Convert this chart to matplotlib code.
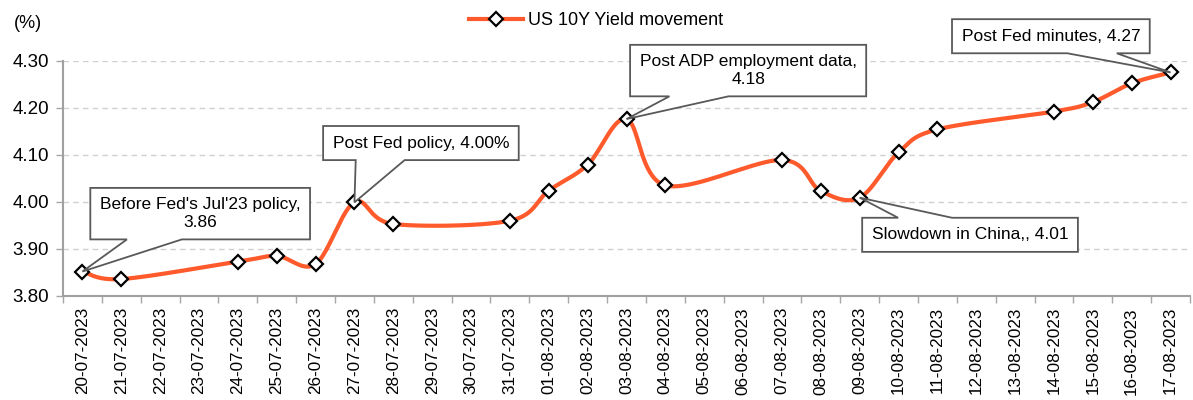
import numpy as np
import matplotlib
matplotlib.use("Agg")
import matplotlib.pyplot as plt
from matplotlib.patches import Polygon
from matplotlib.ticker import FixedLocator, MultipleLocator, FormatStrFormatter

plt.rcParams['font.family'] = ['Liberation Sans', 'DejaVu Sans']

dates = ["20-07-2023", "21-07-2023", "22-07-2023", "23-07-2023", "24-07-2023",
         "25-07-2023", "26-07-2023", "27-07-2023", "28-07-2023", "29-07-2023",
         "30-07-2023", "31-07-2023", "01-08-2023", "02-08-2023", "03-08-2023",
         "04-08-2023", "05-08-2023", "06-08-2023", "07-08-2023", "08-08-2023",
         "09-08-2023", "10-08-2023", "11-08-2023", "12-08-2023", "13-08-2023",
         "14-08-2023", "15-08-2023", "16-08-2023", "17-08-2023"]
trade_dates = ["20-07-2023", "21-07-2023", "24-07-2023", "25-07-2023", "26-07-2023",
               "27-07-2023", "28-07-2023", "31-07-2023", "01-08-2023", "02-08-2023",
               "03-08-2023", "04-08-2023", "07-08-2023", "08-08-2023", "09-08-2023",
               "10-08-2023", "11-08-2023", "14-08-2023", "15-08-2023", "16-08-2023",
               "17-08-2023"]
yields = [3.852, 3.836, 3.873, 3.885, 3.868, 3.999, 3.953, 3.960, 4.024, 4.079,
          4.176, 4.035, 4.089, 4.023, 4.009, 4.105, 4.154, 4.192, 4.212, 4.252, 4.275]

annotations = [
    ("20-07-2023", "Before Fed's Jul'23 policy,\n3.86", (3.03, 3.975)),
    ("27-07-2023", "Post Fed policy, 4.00%", (8.71, 4.125)),
    ("03-08-2023", "Post ADP employment data,\n4.18", (17.13, 4.279)),
    ("17-08-2023", "Post Fed minutes, 4.27", (24.92, 4.352)),
    ("09-08-2023", "Slowdown in China,, 4.01", (22.84, 3.930)),
]

line_color = "#FF5A2C"

fig = plt.figure(figsize=(11.93, 4.0), dpi=100)
ax = fig.add_axes([63/1193, 1 - 296/400, (1190 - 63)/1193, (296 - 60.7)/400])

xs = np.array([dates.index(d) for d in trade_dates], dtype=float)
ys = np.array(yields)

# Excel-like smoothing (Catmull-Rom Bezier)
P = np.column_stack([xs, ys])
Pext = np.vstack([P[0], P, P[-1]])
curve = []
t = np.linspace(0, 1, 40)
for i in range(len(P) - 1):
    p0, p1, p2, p3 = Pext[i], Pext[i + 1], Pext[i + 2], Pext[i + 3]
    b1 = p1 + (p2 - p0) / 6
    b2 = p2 - (p3 - p1) / 6
    seg = ((1 - t) ** 3)[:, None] * p1 + (3 * (1 - t) ** 2 * t)[:, None] * b1 \
        + (3 * (1 - t) * t ** 2)[:, None] * b2 + (t ** 3)[:, None] * p2
    curve.append(seg)
curve = np.vstack(curve)

ax.plot(curve[:, 0], curve[:, 1], color=line_color, lw=3, zorder=3, solid_capstyle='round')
ax.plot(xs, ys, ls='none', marker='D', ms=7.5, mfc='white', mec='black', mew=1.6, zorder=4)

# legend proxy
ax.plot([], [], color=line_color, lw=3, marker='D', ms=7, mfc='white', mec='black', mew=1.6,
        label="US 10Y Yield movement")
leg = ax.legend(loc='center', bbox_to_anchor=(0.473, 1.17), frameon=False, fontsize=13,
                handlelength=3.0, handletextpad=0.3)

ax.set_xlim(-0.5, len(dates) - 0.5)
ax.set_ylim(3.80, 4.30)
ax.yaxis.set_major_locator(MultipleLocator(0.1))
ax.yaxis.set_major_formatter(FormatStrFormatter('%.2f'))
ax.set_xticks(range(len(dates)))
ax.set_xticklabels(dates, rotation=90, fontsize=12.3)
ax.xaxis.set_minor_locator(FixedLocator(np.arange(-0.5, len(dates), 1.0)))
ax.tick_params(axis='x', which='major', length=0, pad=8)
ax.tick_params(axis='x', which='minor', length=5, color='#A6A6A6', width=1)
ax.tick_params(axis='y', length=5, color='#A6A6A6', width=1, labelsize=13.5, pad=5)

ax.grid(axis='y', ls=(0, (4, 3)), color='#D0D0D0', lw=1)
ax.set_axisbelow(True)
for s in ['top', 'right']:
    ax.spines[s].set_visible(False)
for s in ['left', 'bottom']:
    ax.spines[s].set_color('#A0A0A0')
    ax.spines[s].set_linewidth(1.5)

fig.text(28/1193, 1 - 24/400, "(%)", ha='center', va='center', fontsize=13)

anns = []
for d, txt, (tx, ty) in annotations:
    xi = dates.index(d)
    yi = yields[trade_dates.index(d)]
    a = ax.annotate(txt, xy=(xi, yi), xytext=(tx, ty), ha='center', va='center',
                    fontsize=12.5, linespacing=1.2, annotation_clip=False,
                    bbox=dict(boxstyle='square,pad=0.55', fc='none', ec='none'),
                    zorder=7)
    anns.append((a, xi, yi))

# callout shapes (Excel-style wedge rectangle callouts)
fig.canvas.draw()
r = fig.canvas.get_renderer()
inv = ax.transData.inverted()
for a, xi, yi in anns:
    ext = a.get_bbox_patch().get_window_extent(r)
    x0, y0, x1, y1 = ext.x0, ext.y0, ext.x1, ext.y1
    w = x1 - x0
    px, py = ax.transData.transform((xi, yi))
    if px < (x0 + x1) / 2:
        bl, br = x0 + w / 6, x0 + w * 5 / 12
    else:
        bl, br = x1 - w * 5 / 12, x1 - w / 6
    if py < y0:
        verts = [(x0, y1), (x1, y1), (x1, y0), (br, y0), (px, py), (bl, y0), (x0, y0)]
    else:
        verts = [(x0, y0), (x1, y0), (x1, y1), (br, y1), (px, py), (bl, y1), (x0, y1)]
    dverts = inv.transform(np.array(verts))
    poly = Polygon(dverts, closed=True, fc='white', ec='#595959', lw=1.3,
                   joinstyle='miter', zorder=6, clip_on=False)
    ax.add_patch(poly)

fig.savefig("out.png", dpi=100)
